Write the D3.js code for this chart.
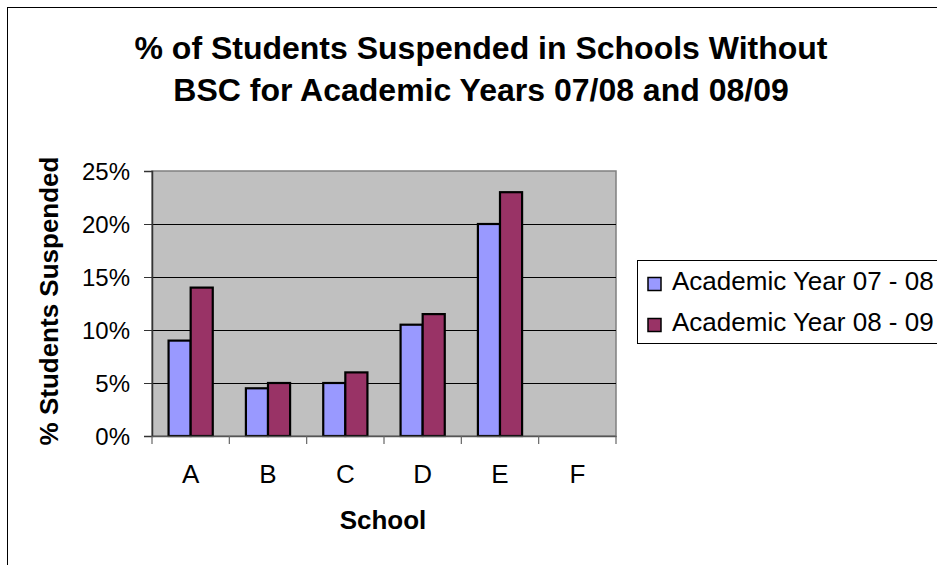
<!DOCTYPE html>
<html><head><meta charset="utf-8">
<script src="https://cdn.jsdelivr.net/npm/d3@7"></script>
<style>body{margin:0;background:#fff;}svg{display:block;font-family:"Liberation Sans",Arial,sans-serif;}</style>
</head><body>
<script>
const categories = ["A","B","C","D","E","F"];
const series = ["Academic Year 07 - 08","Academic Year 08 - 09"];
const year0708 = [9, 4.5, 5, 10.5, 20, null];
const year0809 = [14, 5, 6, 11.5, 23, null];
const yTicks = [0,5,10,15,20,25];
const colors = ["#9999FF","#993366"];

const W=937,H=565;
const svg=d3.select("body").append("svg").attr("width",W).attr("height",H);
svg.append("rect").attr("x",7.5).attr("y",7.5).attr("width",W+20).attr("height",H+20)
  .attr("fill","#fff").attr("stroke","#000").attr("stroke-width",1);

const L=152,R=616,T=171,B=436;
const x=d3.scaleBand().domain(categories).range([L,R]).paddingInner(0).paddingOuter(0);
const y=d3.scaleLinear().domain([0,25]).range([B,T]);
const gap=1.5;
const bw=x.bandwidth()/(2+gap);
const xs=d3.scaleBand().domain([0,1]).range([bw*gap/2,bw*gap/2+2*bw]);

svg.append("rect").attr("x",L).attr("y",T).attr("width",R-L).attr("height",B-T)
  .attr("fill","#C0C0C0").attr("stroke","#808080").attr("stroke-width",1.5);

svg.append("g").selectAll("line").data(yTicks.filter(d=>d>0&&d<25)).join("line")
  .attr("x1",L).attr("x2",R).attr("y1",d=>Math.round(y(d))+0.5).attr("y2",d=>Math.round(y(d))+0.5)
  .attr("stroke","#000").attr("stroke-width",1);

const data=[year0708,year0809];
data.forEach((vals,si)=>{
  svg.append("g").selectAll("rect").data(categories.map((c,i)=>({c,v:vals[i]})).filter(d=>d.v!=null)).join("rect")
    .attr("x",d=>x(d.c)+xs(si)).attr("width",xs.bandwidth())
    .attr("y",d=>y(d.v)).attr("height",d=>B-y(d.v))
    .attr("fill",colors[si]).attr("stroke","#000").attr("stroke-width",2.2);
});

const ya=svg.append("g").attr("transform",`translate(${L},0)`)
  .call(d3.axisLeft(y).tickValues(yTicks).tickFormat(d=>d+"%").tickSize(8).tickPadding(14));
ya.select(".domain").attr("stroke","#333").attr("stroke-width",1.5);
ya.selectAll(".tick line").attr("stroke","#333");
ya.selectAll("text").attr("font-size",24).attr("font-family","Liberation Sans, Arial, sans-serif").attr("fill","#000").attr("dy","0.36em");

const xa=svg.append("g").attr("transform",`translate(0,${B})`)
  .call(d3.axisBottom(x).tickSize(0).tickPadding(28));
xa.select(".domain").attr("stroke","#555").attr("stroke-width",1.5);
xa.selectAll("text").attr("font-size",26).attr("font-family","Liberation Sans, Arial, sans-serif").attr("fill","#000")
  .attr("dy",null).attr("y",47);
svg.append("g").selectAll("line").data(d3.range(categories.length+1)).join("line")
  .attr("x1",i=>L+i*x.bandwidth()).attr("x2",i=>L+i*x.bandwidth())
  .attr("y1",B).attr("y2",B+8).attr("stroke","#666").attr("stroke-width",1.2);

const t=svg.append("text").attr("text-anchor","middle").attr("font-weight","bold").attr("font-size",32).attr("fill","#000");
t.append("tspan").attr("x",481).attr("y",59).text("% of Students Suspended in Schools Without");
t.append("tspan").attr("x",481).attr("y",101).text("BSC for Academic Years 07/08 and 08/09");

svg.append("text").attr("x",383).attr("y",529).attr("text-anchor","middle").attr("font-weight","bold")
  .attr("font-size",26).text("School");
svg.append("text").attr("transform","translate(58,301) rotate(-90)").attr("text-anchor","middle")
  .attr("font-weight","bold").attr("font-size",26).text("% Students Suspended");

const lg=svg.append("g");
lg.append("rect").attr("x",637.5).attr("y",260.5).attr("width",320).attr("height",83)
  .attr("fill","#fff").attr("stroke","#000").attr("stroke-width",1);
series.forEach((s,i)=>{
  const cy=284+i*41;
  lg.append("rect").attr("x",648).attr("y",cy-6.5).attr("width",13).attr("height",13)
    .attr("fill",colors[i]).attr("stroke","#000").attr("stroke-width",1.5);
  lg.append("text").attr("x",672).attr("y",cy+6).attr("font-size",26).text(s);
});
</script>
</body></html>
